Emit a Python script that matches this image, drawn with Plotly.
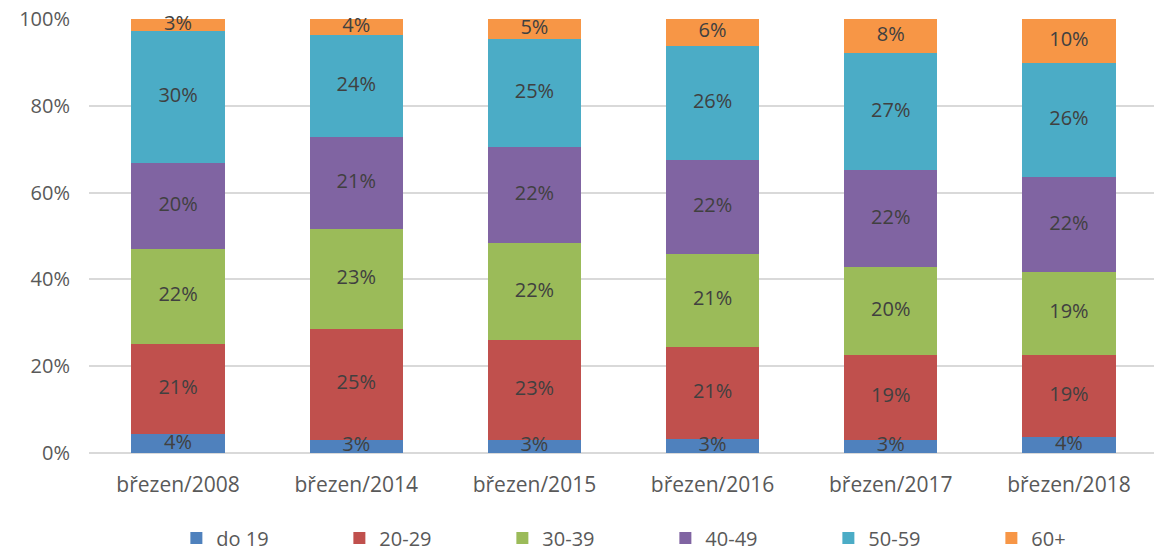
import plotly.graph_objects as go

categories = ["březen/2008", "březen/2014", "březen/2015", "březen/2016", "březen/2017", "březen/2018"]
do19 = [4.3, 3.1, 3.1, 3.2, 3.1, 3.7]
v20_29 = [20.8, 25.4, 22.9, 21.3, 19.4, 18.8]
v30_39 = [22.0, 23.0, 22.4, 21.4, 20.3, 19.3]
v40_49 = [19.8, 21.3, 22.0, 21.7, 22.4, 21.7]
v50_59 = [30.4, 23.6, 25.0, 26.2, 26.9, 26.4]
v60 = [2.7, 3.6, 4.6, 6.2, 7.9, 10.1]

series = [
    ("do 19", do19, "#4F81BD"),
    ("20-29", v20_29, "#C0504D"),
    ("30-39", v30_39, "#9BBB59"),
    ("40-49", v40_49, "#8064A2"),
    ("50-59", v50_59, "#4BACC6"),
    ("60+", v60, "#F79646"),
]

FONT = "Open Sans"
fig = go.Figure()
for name, vals, color in series:
    fig.add_trace(go.Bar(
        name=name, x=categories, y=vals,
        marker=dict(color=color, line=dict(width=0)),
    ))

# data labels, centred in each segment (positions derived from the data)
lab_x, lab_y, lab_t = [], [], []
base = [0.0] * len(categories)
for name, vals, color in series:
    for i, v in enumerate(vals):
        lab_x.append(categories[i])
        lab_y.append(base[i] + v / 2)
        lab_t.append(f"{round(v)}%")
        base[i] += v
fig.add_trace(go.Scatter(
    x=lab_x, y=lab_y, text=lab_t, mode="text", textposition="middle center",
    textfont=dict(family=FONT, size=20, color="#404040"),
    showlegend=False, hoverinfo="skip", cliponaxis=False,
))

fig.update_layout(
    barmode="stack",
    bargap=0.476,
    width=1162, height=549,
    margin=dict(l=81, r=12, t=11, b=104),
    paper_bgcolor="white", plot_bgcolor="white",
    font=dict(family=FONT, size=19, color="#595959"),
    xaxis=dict(showgrid=False, showline=False, ticks="", ticklabelstandoff=17,
               automargin=False, tickfont=dict(size=21, color="#595959")),
    yaxis=dict(range=[0, 100], tickvals=[0, 20, 40, 60, 80, 100],
               ticktext=["0%", "20%", "40%", "60%", "80%", "100%"],
               showgrid=True, gridcolor="#D9D9D9", gridwidth=1.5,
               zeroline=True, zerolinecolor="#D9D9D9", zerolinewidth=1.5,
               tickfont=dict(size=20, color="#595959"), ticks="", ticklabelstandoff=18,
               ticklabeloverflow="allow", automargin=False,
               ),
    legend=dict(orientation="h", xref="container", yref="container",
                x=0.1449, xanchor="left", y=0.0346, yanchor="middle",
                entrywidth=118, entrywidthmode="pixels",
                font=dict(size=20, color="#595959"), traceorder="normal",
                itemsizing="constant"),
    showlegend=True,
)
fig.write_html("out.html")
